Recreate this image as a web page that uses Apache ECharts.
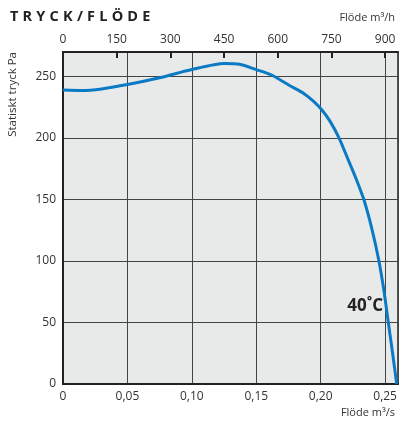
<!DOCTYPE html>
<html><head><meta charset="utf-8">
<script src="https://cdn.jsdelivr.net/npm/echarts@6/dist/echarts.min.js"></script>
<style>
html,body{margin:0;padding:0;background:#fff;}
#c{width:401px;height:421px;position:relative;}
#t{position:absolute;left:10px;top:6px;font:bold 14.5px "Open Sans",sans-serif;letter-spacing:4.2px;color:#222;}
</style></head><body>
<div id="c"></div>
<div id="t">TRYCK/FLÖDE</div>
<script>
const flowM3s = [0, 0.015, 0.03, 0.05, 0.075, 0.10, 0.125, 0.137, 0.15, 0.1615, 0.1762, 0.1866, 0.1943, 0.2008, 0.2073, 0.2143, 0.2203, 0.2267, 0.2335, 0.2400, 0.2452, 0.2492, 0.2525, 0.2558, 0.259];
const pressurePa = [239, 238.6, 240, 243.5, 249, 255.7, 260.6, 260, 255.7, 251.5, 242.5, 236.5, 230, 223, 213.6, 200, 185, 169, 150, 125, 100, 75, 50, 25, 0];
const xTicks = [0, 0.05, 0.10, 0.15, 0.20, 0.25];
const topTicks = [0, 150, 300, 450, 600, 750, 900];
const yTicks = [0, 50, 100, 150, 200, 250];
const curveLabel = '40˚C';

const chart = echarts.init(document.getElementById('c'), null, {renderer:'canvas'});
const font = '"Open Sans", sans-serif';
const xMax = 0.26, yMax = 270;
chart.setOption({
  animation:false,
  textStyle:{fontFamily:font},
  grid:{left:63,right:3,top:52,bottom:37,show:true,backgroundColor:'#e8e9e9',borderColor:'#222',borderWidth:1.5},
  xAxis:[{
    type:'value',min:0,max:xMax,interval:0.05,position:'bottom',
    name:'Flöde m³/s',nameLocation:'end',nameGap:0,
    nameTextStyle:{color:'#333',fontSize:11,align:'right',verticalAlign:'top',padding:[23,3,0,0]},
    axisLine:{show:true,lineStyle:{color:'#222',width:2}},
    axisTick:{show:false},
    axisLabel:{color:'#333',fontSize:12,margin:7,showMaxLabel:false,
      formatter:v=>{const i=xTicks.findIndex(t=>Math.abs(t-v)<1e-9);return i<0?'':(v===0?'0':xTicks[i].toFixed(2).replace('.',','));}},
    splitLine:{show:true,lineStyle:{color:'#444',width:1}}
  },{
    type:'value',min:0,max:xMax*3600,interval:150,position:'top',
    name:'Flöde m³/h',nameLocation:'end',nameGap:0,
    nameTextStyle:{color:'#333',fontSize:11,align:'right',verticalAlign:'bottom',padding:[0,3,29,0]},
    axisLine:{show:true,lineStyle:{color:'#222',width:2}},
    axisTick:{show:true,inside:true,length:6,lineStyle:{color:'#222',width:2}},
    axisLabel:{color:'#333',fontSize:12,margin:6,showMaxLabel:false,
      formatter:v=>topTicks.includes(v)?String(v):''},
    splitLine:{show:false}
  }],
  yAxis:{
    type:'value',min:0,max:yMax,interval:50,
    name:'Statiskt tryck Pa',nameLocation:'end',nameRotate:90,nameGap:0,
    nameTextStyle:{color:'#333',fontSize:11.5,align:'right',verticalAlign:'bottom',padding:[0,0,44,0]},
    axisLine:{show:true,lineStyle:{color:'#222',width:2}},
    axisTick:{show:false},
    axisLabel:{color:'#333',fontSize:12,margin:7,showMaxLabel:false,
      formatter:v=>yTicks.includes(v)?String(v):''},
    splitLine:{show:true,lineStyle:{color:'#444',width:1}}
  },
  series:[{
    type:'line',xAxisIndex:0,smooth:0.25,symbol:'none',
    data:flowM3s.map((x,i)=>[x,pressurePa[i]]),
    lineStyle:{color:'#0a7ac4',width:3},
    markPoint:{symbol:'circle',symbolSize:0,
      data:[{coord:[0.2484,63],value:curveLabel}],
      label:{show:true,formatter:curveLabel,color:'#222',fontSize:17,fontWeight:'bold',fontFamily:font,position:'left',distance:0}}
  }]
});
</script></body></html>
